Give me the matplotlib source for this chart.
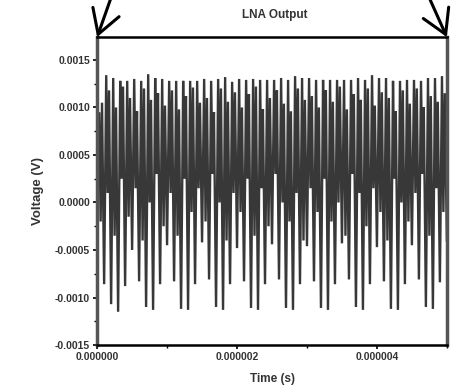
#!/usr/bin/python
# lna output trace -- time domain view of the LNA output voltage

import numpy as np
import matplotlib
matplotlib.use('Agg')
import matplotlib.pyplot as plt
from matplotlib.ticker import MultipleLocator, FormatStrFormatter

# one cycle of the trace lasts 0.1 us
PERIOD = 0.1e-6
# where trough, peak, dip and shoulder sit inside a cycle (fraction of PERIOD)
OFFSETS = [0.0, 0.3, 0.5, 0.7]

# trough voltages, one per cycle (V)
trough_v = [-0.00020, -0.00086, -0.00107, -0.00115, -0.00088,
            -0.00050, -0.00083, -0.00110, -0.00113, -0.00086,
            -0.00045, -0.00083, -0.00112, -0.00113, -0.00086,
            -0.00042, -0.00081, -0.00110, -0.00113, -0.00086,
            -0.00048, -0.00083, -0.00111, -0.00113, -0.00086,
            -0.00044, -0.00081, -0.00111, -0.00113, -0.00086,
            -0.00046, -0.00083, -0.00111, -0.00113, -0.00086,
            -0.00043, -0.00081, -0.00110, -0.00113, -0.00086,
            -0.00047, -0.00083, -0.00112, -0.00113, -0.00086,
            -0.00045, -0.00081, -0.00110, -0.00112, -0.00084]

# peak voltages, one per cycle (V)
peak_v = [0.00095, 0.00134, 0.00131, 0.00128, 0.00128,
          0.00130, 0.00128, 0.00135, 0.00131, 0.00130,
          0.00128, 0.00128, 0.00128, 0.00128, 0.00128,
          0.00130, 0.00128, 0.00130, 0.00132, 0.00127,
          0.00130, 0.00129, 0.00130, 0.00129, 0.00129,
          0.00129, 0.00131, 0.00129, 0.00133, 0.00131,
          0.00131, 0.00129, 0.00129, 0.00129, 0.00129,
          0.00129, 0.00129, 0.00131, 0.00129, 0.00134,
          0.00131, 0.00131, 0.00128, 0.00128, 0.00129,
          0.00129, 0.00128, 0.00131, 0.00131, 0.00133]

# dip after each peak (V)
dip_v = [-0.00020, 0.00010, -0.00035, 0.00025, -0.00015,
         0.00015, -0.00040, 0.00000, 0.00030, -0.00025,
         0.00010, -0.00035, 0.00025, -0.00010, 0.00015,
         -0.00020, 0.00030, 0.00000, -0.00040, 0.00010,
         -0.00010, 0.00025, -0.00035, 0.00015, -0.00025,
         0.00030, 0.00000, -0.00020, 0.00010, -0.00040,
         0.00015, -0.00010, 0.00025, -0.00020, 0.00000,
         -0.00035, 0.00030, 0.00010, -0.00025, 0.00015,
         -0.00010, -0.00040, 0.00025, 0.00000, -0.00020,
         0.00010, 0.00030, -0.00035, 0.00015, -0.00010]

# shoulder before the next trough (V)
shoulder_v = [0.00105, 0.00118, 0.00100, 0.00122, 0.00110,
              0.00096, 0.00120, 0.00108, 0.00115, 0.00102,
              0.00118, 0.00098, 0.00112, 0.00121, 0.00105,
              0.00110, 0.00095, 0.00120, 0.00106, 0.00116,
              0.00100, 0.00114, 0.00122, 0.00098, 0.00110,
              0.00118, 0.00104, 0.00096, 0.00120, 0.00108,
              0.00112, 0.00100, 0.00118, 0.00106, 0.00122,
              0.00098, 0.00114, 0.00108, 0.00120, 0.00102,
              0.00116, 0.00110, 0.00096, 0.00118, 0.00104,
              0.00120, 0.00100, 0.00112, 0.00106, 0.00115]

#----------------------------------------------------------------------
def buildtrace():
#----------------------------------------------------------------------
    '''
    interleave trough, peak, dip and shoulder of every cycle into one trace
    '''
    times = []
    volts = []
    for k, cycle in enumerate(zip(trough_v, peak_v, dip_v, shoulder_v)):
        for off, v in zip(OFFSETS, cycle):
            times.append((k + off) * PERIOD)
            volts.append(v)
    times.append(len(trough_v) * PERIOD)
    volts.append(-0.00040)
    return np.array(times), np.array(volts)

#----------------------------------------------------------------------
def render(outfile):
#----------------------------------------------------------------------
    plt.rcParams['font.family'] = ['Liberation Sans', 'DejaVu Sans']

    fig = plt.figure(figsize=(4.56, 3.91), dpi=100)
    ax = fig.add_axes([0.213, 0.1176, 0.767, 0.7874])

    times, volts = buildtrace()
    ax.plot(times, volts, color='#383838', linewidth=1.7, solid_joinstyle='miter')

    ax.set_xlim(0, 5.0e-6)
    ax.set_ylim(-0.0015, 0.00174)

    # ticks
    ax.xaxis.set_major_locator(MultipleLocator(2e-6))
    ax.xaxis.set_minor_locator(MultipleLocator(1e-6))
    ax.xaxis.set_major_formatter(FormatStrFormatter('%.6f'))
    ax.yaxis.set_major_locator(MultipleLocator(0.0005))
    ax.yaxis.set_minor_locator(MultipleLocator(0.00025))
    ax.yaxis.set_major_formatter(FormatStrFormatter('%.4f'))
    ax.tick_params(which='major', direction='out', length=3, width=1.2,
                   labelsize=7.5, labelcolor='#333333', pad=2)
    ax.tick_params(which='minor', direction='out', length=2, width=1.0)
    for lab in ax.get_xticklabels() + ax.get_yticklabels():
        lab.set_fontweight('bold')

    # spines
    for side in ('left', 'right'):
        ax.spines[side].set_color('#555555')
        ax.spines[side].set_linewidth(2.5)
    for side in ('top', 'bottom'):
        ax.spines[side].set_color('black')
        ax.spines[side].set_linewidth(1.8)

    # labels
    ax.set_xlabel('Time (s)', fontsize=8.5, fontweight='bold', color='#333333', labelpad=8)
    ax.set_ylabel('Voltage (V)', fontsize=9.5, fontweight='bold', color='#333333', labelpad=8)
    fig.text(0.603, 0.962, 'LNA Output', fontsize=8.5, fontweight='bold',
             color='#333333', ha='center', va='center')

    # arrows pointing at the axes corners
    arrow = dict(arrowstyle='->,head_length=1.7,head_width=1.0', lw=2.2,
                 color='black', shrinkA=0, shrinkB=0)
    ax.annotate('', xy=(0, 1), xycoords='axes fraction',
                xytext=(112, 396), textcoords='figure pixels', arrowprops=arrow)
    ax.annotate('', xy=(1, 1), xycoords='axes fraction',
                xytext=(428, 396), textcoords='figure pixels', arrowprops=arrow)

    fig.savefig(outfile, format='png', dpi=100)

#----------------------------------------------------------------------
def main():
#----------------------------------------------------------------------
    render('out.png')

if __name__ == "__main__":
    main()
